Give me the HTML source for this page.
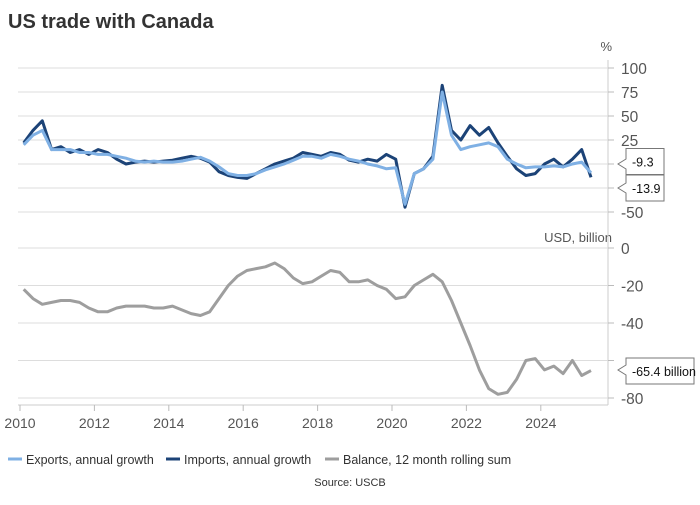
<!DOCTYPE html>
<html><head><meta charset="utf-8"><style>
body{margin:0;background:#fff;font-family:"Liberation Sans",sans-serif}
svg text{font-family:"Liberation Sans",sans-serif}
</style></head><body>
<svg id="c" width="700" height="500">
<text x="8" y="28" font-size="20" font-weight="bold" fill="#333">US trade with Canada</text>
<text x="612" y="51" font-size="13" fill="#555" text-anchor="end">%</text>
<text x="612" y="242" font-size="13" fill="#555" text-anchor="end">USD, billion</text>
<g id="grid"></g><g id="lines"></g><g id="ann"></g>
<g font-size="12.5" fill="#333">
<line x1="8" y1="459" x2="22" y2="459" stroke="#7fb0e4" stroke-width="3"/><text x="26" y="464">Exports, annual growth</text>
<line x1="166" y1="459" x2="180" y2="459" stroke="#1c4377" stroke-width="3"/><text x="184" y="464">Imports, annual growth</text>
<line x1="325" y1="459" x2="339" y2="459" stroke="#9e9e9e" stroke-width="3"/><text x="343" y="464">Balance, 12 month rolling sum</text>
</g>
<text x="350" y="486" font-size="11" fill="#333" text-anchor="middle">Source: USCB</text>
</svg>
<script>
const exportsG=[20,30,35,15,15,15,12,12,10,10,8,6,3,2,3,2,2,3,5,7,3,-3,-10,-12,-12,-10,-6,-3,0,4,8,8,6,10,8,5,3,0,-2,-5,-4,-42,-10,-5,5,75,30,15,18,20,22,18,5,0,-4,-3,-3,-2,-3,0,2,-9.3];
const importsG=[22,35,45,15,18,12,15,10,15,12,5,0,2,3,2,3,4,6,8,6,2,-8,-12,-14,-15,-10,-5,0,3,6,12,10,8,12,10,4,2,5,3,10,5,-45,-10,-5,8,82,35,25,40,30,38,22,8,-5,-12,-10,0,5,-3,5,15,-13.9];
const balance=[-22,-27,-30,-29,-28,-28,-29,-32,-34,-34,-32,-31,-31,-31,-32,-32,-31,-33,-35,-36,-34,-27,-20,-15,-12,-11,-10,-8,-11,-16,-19,-18,-15,-12,-13,-18,-18,-17,-20,-22,-27,-26,-20,-17,-14,-18,-28,-40,-52,-65,-75,-78,-77,-70,-60,-59,-65,-63,-67,-60,-68,-65.4];
const topTicks=[100,75,50,25,0,-25,-50];
const topLabels=["100","75","50","25","","","-50"];
const botTicks=[0,-20,-40,-60,-80];
const botLabels=["0","-20","-40","","-80"];
const yearTicks=[2010,2012,2014,2016,2018,2020,2022,2024];
const NS="http://www.w3.org/2000/svg";
const X=t=>20+(t-2010)*37.2;
const YT=v=>164-v*24/25;
const Y2=v=>248+(-v)*150/80;
const tOf=i=>2010.1+i*0.25;
function mk(tag,attrs,p){const e=document.createElementNS(NS,tag);for(const k in attrs)e.setAttribute(k,attrs[k]);p.appendChild(e);return e;}
const g=document.getElementById('grid'),L=document.getElementById('lines'),A=document.getElementById('ann');
mk('line',{x1:608,y1:60,x2:608,y2:405,stroke:'#ccc'},g);
topTicks.forEach((v,i)=>{const y=YT(v);
const gl=mk('line',{x1:18,y1:y,x2:608,y2:y,stroke:'#ddd'},g);


mk('line',{x1:608,y1:y,x2:614,y2:y,stroke:'#bbb'},g);
const t=mk('text',{x:621,y:y+6,'font-size':15.5,fill:'#555'},g);t.textContent=topLabels[i];

});
botTicks.forEach((v,i)=>{const y=Y2(v);
const gl=mk('line',{x1:18,y1:y,x2:608,y2:y,stroke:'#ddd'},g);


mk('line',{x1:608,y1:y,x2:614,y2:y,stroke:'#bbb'},g);
const t=mk('text',{x:621,y:y+6,'font-size':15.5,fill:'#555'},g);t.textContent=botLabels[i];

});
mk('line',{x1:18,y1:405,x2:608,y2:405,stroke:'#ccc'},g);
yearTicks.forEach(yr=>{const x=X(yr);mk('line',{x1:x,y1:405,x2:x,y2:411,stroke:'#bbb'},g);
const t=mk('text',{x:x,y:428,'font-size':14,fill:'#555','text-anchor':'middle'},g);t.textContent=yr;

});
function line(arr,yf,col,name){const d=arr.map((v,i)=>(i?'L':'M')+X(tOf(i)).toFixed(1)+','+yf(v).toFixed(1)).join('');
const p=mk('path',{d:d,fill:'none',stroke:col,'stroke-width':3,'stroke-linejoin':'round'},L);

}
line(importsG,YT,'#1c4377','imports-line');
line(exportsG,YT,'#7fb0e4','exports-line');
line(balance,Y2,'#9e9e9e','balance-line');
function callout(yp,yb,txt,name,w){const bx=618;
mk('path',{d:`M${bx+8},${yb-13}h${w}v26h-${w}V${yp+5}L${bx},${yp}L${bx+8},${yp-5}z`,fill:'#fff',stroke:'#777'},A);
const t=mk('text',{x:bx+14,y:yb+5,'font-size':12.5,fill:'#111'},A);t.textContent=txt;

}
callout(164,161.5,"-9.3",'exports-callout',38);
callout(188,188,"-13.9",'imports-callout',38);
callout(370,371,"-65.4 billion",'balance-callout',68);
</script>
</body></html>
